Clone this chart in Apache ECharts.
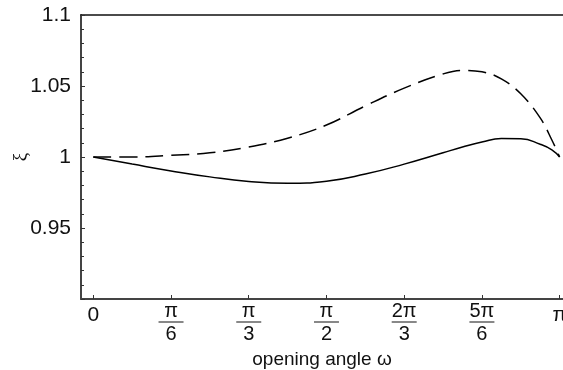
<!DOCTYPE html>
<html lang="en" style="height: 100%">

<head>
    <meta charset="utf-8" />
    <script src="https://cdn.jsdelivr.net/npm/echarts@6/dist/echarts.min.js"></script>
</head>

<body style="height: 100%; margin: 0; background: #fff">
    <div id="container" style="width: 563px;height: 370px;"></div>
    <script type="text/javascript">
        // opening angle in degrees (pi/12 steps, plus a few extra near the ends)
        const omegaDeg = [0, 15, 30, 45, 60, 75, 90, 105, 120, 135, 142.5, 150, 157.5, 165, 172.5, 177, 180];
        const xiSolid = [1.000, 0.9950, 0.9902, 0.9860, 0.9828, 0.9815, 0.9830, 0.9880, 0.9950, 1.0030, 1.0070, 1.0105, 1.0130, 1.0128, 1.0090, 1.0050, 1.000];
        const xiDashed = [1.000, 1.0000, 1.0012, 1.0030, 1.0070, 1.0132, 1.0225, 1.0360, 1.0485, 1.0585, 1.0610, 1.0600, 1.0550, 1.0445, 1.0275, 1.0120, 1.000];
        const xTicks = [0, 30, 60, 90, 120, 150, 180];
        const xTickLabels = ['0', 'π/6', 'π/3', 'π/2', '2π/3', '5π/6', 'π'];
        const yTicks = [0.95, 1, 1.05, 1.1];

        const font = 'Liberation Sans, Arial, sans-serif';
        const dom = document.getElementById('container');
        const myChart = echarts.init(dom, null, { renderer: 'canvas' });

        function pairs(ys) {
            return omegaDeg.map(function (x, i) { return [x, ys[i]]; });
        }

        function xLabel(value) {
            const idx = xTicks.indexOf(Math.round(value));
            if (idx < 0) return '';
            const txt = xTickLabels[idx];
            if (txt.indexOf('/') < 0) return '{s|' + txt + '}';
            const parts = txt.split('/');
            return '{n|' + parts[0] + '}\n{bar| }\n{d|' + parts[1] + '}';
        }

        const option = {
            backgroundColor: '#fff',
            animation: false,
            grid: {
                left: 81,
                right: 0,
                top: 15,
                bottom: 71,
                outerBoundsMode: 'none'
            },
            xAxis: [{
                type: 'value',
                min: -4.75,
                max: 181.3,
                name: 'opening angle ω',
                nameLocation: 'middle',
                nameGap: 51,
                nameMoveOverlap: false,
                nameTextStyle: { fontFamily: font, fontSize: 19, color: '#111' },
                axisLine: { show: true, onZero: false, lineStyle: { color: '#444', width: 2 } },
                axisTick: { show: true, inside: true, length: 4, customValues: xTicks, lineStyle: { color: '#333' } },
                axisLabel: {
                    customValues: xTicks,
                    margin: 3,
                    formatter: xLabel,
                    rich: {
                        s: { fontFamily: font, fontSize: 21, color: '#111', lineHeight: 26, align: 'center' },
                        n: { fontFamily: font, fontSize: 20, color: '#111', lineHeight: 18, align: 'center' },
                        d: { fontFamily: font, fontSize: 20, color: '#111', lineHeight: 20, align: 'center' },
                        bar: { width: 25, height: 1, lineHeight: 4, backgroundColor: '#111', fontSize: 1 }
                    }
                },
                splitLine: { show: false }
            }, {
                type: 'value',
                position: 'top',
                min: -4.75,
                max: 181.3,
                axisLine: { show: true, onZero: false, lineStyle: { color: '#111', width: 1.5 } },
                axisTick: { show: false },
                axisLabel: { show: false },
                splitLine: { show: false }
            }],
            yAxis: {
                type: 'value',
                min: 0.9,
                max: 1.1,
                interval: 0.05,
                name: 'ξ',
                nameLocation: 'middle',
                nameGap: 50,
                nameMoveOverlap: false,
                nameTextStyle: { fontFamily: 'Liberation Serif, serif', fontSize: 19, color: '#111' },
                axisLine: { show: true, onZero: false, lineStyle: { color: '#444', width: 2 } },
                axisTick: { show: true, inside: true, length: 4, lineStyle: { color: '#333' } },
                minorTick: { show: true, splitNumber: 5, length: 3, lineStyle: { color: '#333' } },
                axisLabel: {
                    margin: 10,
                    fontFamily: font,
                    fontSize: 21,
                    color: '#111',
                    formatter: function (v) {
                        const r = Math.round(v * 100) / 100;
                        return yTicks.indexOf(r) >= 0 ? String(r) : '';
                    }
                },
                splitLine: { show: false }
            },
            series: [{
                name: 'solid',
                type: 'line',
                smooth: 0.5,
                showSymbol: false,
                lineStyle: { color: '#000', width: 1.5 },
                data: pairs(xiSolid)
            }, {
                name: 'dashed',
                type: 'line',
                smooth: 0.4,
                showSymbol: false,
                lineStyle: { color: '#000', width: 1.5, type: [18, 8] },
                data: pairs(xiDashed)
            }]
        };

        myChart.setOption(option);
        window.addEventListener('resize', myChart.resize);
    </script>
</body>

</html>
